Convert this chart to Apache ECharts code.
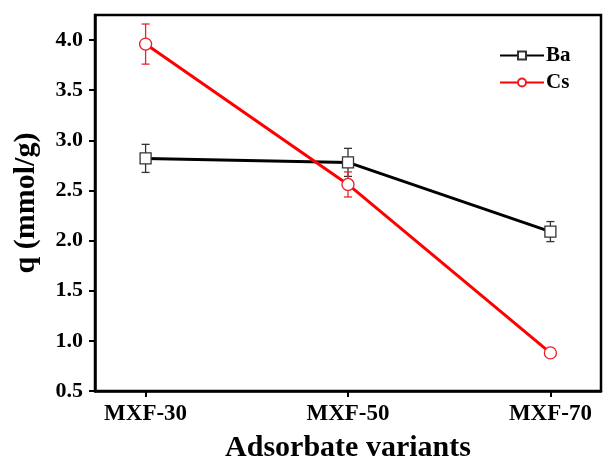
<!DOCTYPE html>
<html>
<head>
<meta charset="utf-8">
<script src="https://cdn.jsdelivr.net/npm/echarts@6/dist/echarts.min.js"></script>
<style>
  html, body { margin: 0; padding: 0; background: #fff; }
  #chart { width: 603px; height: 459px; }
</style>
</head>
<body>
<div id="chart"></div>
<script>
  // data
  const categories = ['MXF-30', 'MXF-50', 'MXF-70']
  const baValues = [2.82, 2.78, 2.09]
  const baErrors = [0.14, 0.14, 0.1]
  const csValues = [3.96, 2.56, 0.88]
  const csErrors = [0.2, 0.125, 0.02]
  const yTicks = [0.5, 1.0, 1.5, 2.0, 2.5, 3.0, 3.5, 4.0]

  const FONT = "'Liberation Serif', 'Times New Roman', serif"

  const pairs = (vals) => vals.map((v, i) => [i, v])
  const errRows = (vals, errs) => vals.map((v, i) => [i, v - errs[i], v + errs[i]])

  const errorBar = (color) => (params, api) => {
    const lo = api.coord([api.value(0), api.value(1)])
    const hi = api.coord([api.value(0), api.value(2)])
    const cap = 4
    const style = { stroke: color, lineWidth: 1.3 }
    return {
      type: 'group',
      children: [
        { type: 'line', shape: { x1: lo[0], y1: lo[1], x2: hi[0], y2: hi[1] }, style },
        { type: 'line', shape: { x1: lo[0] - cap, y1: lo[1], x2: lo[0] + cap, y2: lo[1] }, style },
        { type: 'line', shape: { x1: hi[0] - cap, y1: hi[1], x2: hi[0] + cap, y2: hi[1] }, style }
      ]
    }
  }

  const chart = echarts.init(document.getElementById('chart'), null, { renderer: 'canvas' })

  const option = {
    animation: false,
    backgroundColor: '#fff',
    grid: {
      left: 95, right: 2, top: 15, bottom: 68,
      outerBoundsMode: 'none',
      show: true, borderColor: '#000', borderWidth: 2.5, backgroundColor: 'transparent'
    },
    legend: {
      orient: 'vertical',
      left: 494,
      top: 40,
      itemWidth: 44,
      itemHeight: 10,
      itemGap: 6,
      data: ['Ba', 'Cs'],
      textStyle: { fontFamily: FONT, fontWeight: 'bold', fontSize: 21, color: '#000', padding: [0, 0, 0, -3] }
    },
    xAxis: {
      type: 'value',
      min: -0.25,
      max: 2.25,
      name: 'Adsorbate variants',
      nameLocation: 'middle',
      nameGap: 42,
      nameTextStyle: { fontFamily: FONT, fontWeight: 'bold', fontSize: 30, color: '#000' },
      splitLine: { show: false },
      axisLine: { show: true, onZero: false, lineStyle: { color: '#000', width: 2.5 } },
      axisTick: { show: true, customValues: [0, 1, 2], length: 6, inside: false, lineStyle: { color: '#000', width: 2 } },
      axisLabel: {
        customValues: [0, 1, 2],
        formatter: (v) => categories[Math.round(v)],
        fontFamily: FONT, fontWeight: 'bold', fontSize: 23, color: '#000', margin: 12
      }
    },
    yAxis: {
      type: 'value',
      min: 0.5,
      max: 4.25,
      name: 'q (mmol/g)',
      nameLocation: 'middle',
      nameGap: 54,
      nameTextStyle: { fontFamily: FONT, fontWeight: 'bold', fontSize: 30, color: '#000' },
      splitLine: { show: false },
      axisLine: { show: true, onZero: false, lineStyle: { color: '#000', width: 2.5 } },
      axisTick: { show: true, customValues: yTicks, length: 6, lineStyle: { color: '#000', width: 2 } },
      axisLabel: {
        customValues: yTicks,
        formatter: (v) => v.toFixed(1),
        fontFamily: FONT, fontWeight: 'bold', fontSize: 22, color: '#000', margin: 12
      }
    },
    series: [
      {
        name: 'Ba-err',
        type: 'custom',
        renderItem: errorBar('#333'),
        data: errRows(baValues, baErrors),
        z: 1
      },
      {
        name: 'Cs-err',
        type: 'custom',
        renderItem: errorBar('#e8262a'),
        data: errRows(csValues, csErrors),
        z: 1
      },
      {
        name: 'Ba',
        type: 'line',
        data: pairs(baValues),
        symbol: 'rect',
        symbolSize: 11,
        lineStyle: { color: '#000', width: 3 },
        itemStyle: { color: '#fff', borderColor: '#333', borderWidth: 1.3 },
        z: 3
      },
      {
        name: 'Cs',
        type: 'line',
        data: pairs(csValues),
        symbol: 'circle',
        symbolSize: 12,
        lineStyle: { color: '#ff0000', width: 3 },
        itemStyle: { color: '#fff', borderColor: '#ee1c24', borderWidth: 1.3 },
        z: 4
      }
    ]
  }

  chart.setOption(option)
</script>
</body>
</html>
